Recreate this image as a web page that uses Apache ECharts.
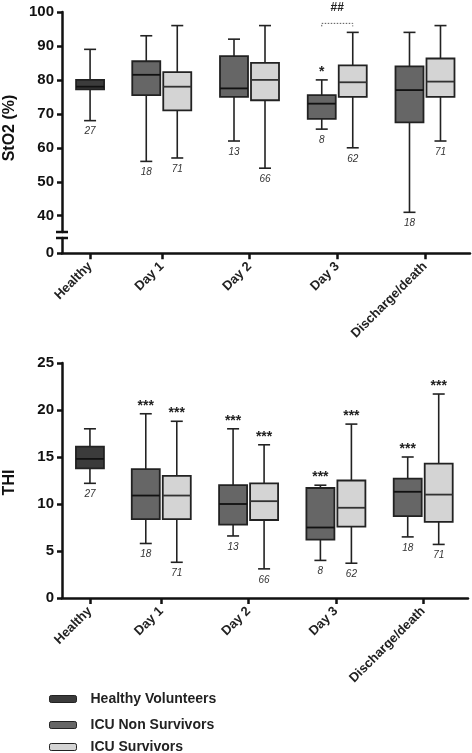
<!DOCTYPE html>
<html><head><meta charset="utf-8">
<script src="https://cdn.jsdelivr.net/npm/echarts@6/dist/echarts.min.js"></script>
<style>html,body{margin:0;padding:0;background:#fff}#c{width:472px;height:753px}</style>
</head><body><div id="c"></div><script>
// ---------------- DATA ----------------
const categories = ['Healthy', 'Day 1', 'Day 2', 'Day 3', 'Discharge/death'];
const seriesNames = ['Healthy Volunteers', 'ICU Non Survivors', 'ICU Survivors'];
// box statistics: [min, Q1, median, Q3, max]
const sto2Healthy = [68, 77.2, 78, 80, 89];
const sto2NonSurv = [[56, 75.5, 81.5, 85.5, 93], [62, 75, 77.5, 87, 92], [65.5, 68.5, 73, 75.5, 80], [41, 67.5, 77, 84, 94]];
const sto2Surv = [[57, 71, 78, 82.3, 96], [54, 74, 80, 85, 96], [60, 75, 79.3, 84.3, 94], [62, 75, 79.5, 86.3, 96]];
const thiHealthy = [12.2, 13.8, 14.8, 16.1, 18];
const thiNonSurv = [[5.8, 8.4, 10.9, 13.7, 19.6], [6.6, 7.8, 10, 12, 18], [4, 6.2, 7.5, 11.7, 12], [6.5, 8.7, 11.3, 12.7, 15]];
const thiSurv = [[3.8, 8.4, 10.9, 13, 18.8], [3.1, 8.3, 10.3, 12.2, 16.3], [3.7, 7.6, 9.6, 12.5, 18.5], [5.7, 8.1, 11, 14.3, 21.7]];
const nHealthy = [27];
const nNonSurv = [18, 13, 8, 18];
const nSurv = [71, 66, 62, 71];
const sto2HealthySig = [''];
const sto2NonSurvSig = ['', '', '*', ''];
const sto2SurvSig = ['', '', '', ''];
const sto2PairSig = ['', '', '##', ''];
const thiHealthySig = [''];
const thiNonSurvSig = ['***', '***', '***', '***'];
const thiSurvSig = ['***', '***', '***', '***'];
const sto2Ticks = [40, 50, 60, 70, 80, 90, 100];
const sto2LowTicks = [0];
const thiTicks = [0, 5, 10, 15, 20, 25];
const sto2BreakLow = 4.5, sto2BreakHigh = 35.2;

// ---------------- LAYOUT ----------------
const groupPos = [0, 0.817, 1.817, 2.817, 3.817];
const X_MIN = -0.32, X_MAX = 4.33;
const BOX_W = 28, PAIR_OFF = 15.5, CAP = 6;
const FONT = 'Liberation Sans';
const colors = ['#3b3b3b', '#666666', '#d4d4d4'];
const STROKE = '#222';

function makeBox(offset, nArr, sigArr, fill, medColor) {
  return function (params, api) {
    const i = params.dataIndex;
    const xv = api.value(0);
    const p = k => api.coord([xv, api.value(k)]);
    const cx = p(1)[0] + offset;
    const yMin = p(1)[1], yQ1 = p(2)[1], yMed = p(3)[1], yQ3 = p(4)[1], yMax = p(5)[1];
    const hw = BOX_W / 2;
    const ch = [
      { type: 'line', shape: { x1: cx, y1: yMax, x2: cx, y2: yMin }, style: { stroke: STROKE, lineWidth: 1.6 } },
      { type: 'line', shape: { x1: cx - CAP, y1: yMax, x2: cx + CAP, y2: yMax }, style: { stroke: STROKE, lineWidth: 1.6 } },
      { type: 'line', shape: { x1: cx - CAP, y1: yMin, x2: cx + CAP, y2: yMin }, style: { stroke: STROKE, lineWidth: 1.6 } },
      { type: 'rect', shape: { x: cx - hw, y: yQ3, width: BOX_W, height: yQ1 - yQ3 }, style: { fill: fill, stroke: STROKE, lineWidth: 1.8 } },
      { type: 'line', shape: { x1: cx - hw, y1: yMed, x2: cx + hw, y2: yMed }, style: { stroke: medColor, lineWidth: 1.8 } },
      { type: 'text', x: cx, y: yMin + 11, style: { text: String(nArr[i]), font: 'italic 10px "Liberation Sans"', fill: '#333', align: 'center', verticalAlign: 'middle' } }
    ];
    if (sigArr[i]) {
      ch.push({ type: 'text', x: cx, y: yMax - 8, style: { text: sigArr[i], font: 'bold 14px "Liberation Sans"', fill: '#222', align: 'center', verticalAlign: 'middle' } });
    }
    return { type: 'group', children: ch };
  };
}

function makeBracket(sigArr) {
  return function (params, api) {
    const i = params.dataIndex;
    if (!sigArr[i]) return { type: 'group', children: [] };
    const c = api.coord([api.value(0), api.value(1)]);
    const y = c[1] - 9, l = c[0] - PAIR_OFF, r = c[0] + PAIR_OFF;
    return { type: 'group', children: [
      { type: 'polyline', shape: { points: [[l, y + 3], [l, y], [r, y], [r, y + 3]] }, style: { stroke: '#555', lineWidth: 1, lineDash: [1.5, 1.5], fill: null } },
      { type: 'text', x: c[0], y: y - 16, style: { text: sigArr[i], font: 'bold 12px "Liberation Sans"', fill: '#222', align: 'center', verticalAlign: 'middle' } }
    ] };
  };
}

function boxData(groups, stats) { return stats.map((s, k) => [groupPos[groups[k]]].concat(s)); }
const dayGroups = [1, 2, 3, 4];

function xAxisCfg(grid, show) {
  return {
    type: 'value', gridIndex: grid, min: X_MIN, max: X_MAX, show: show,
    splitLine: { show: false },
    axisLine: { show: true, onZero: false, lineStyle: { color: '#111', width: 2.5 } },
    axisTick: { show: true, customValues: groupPos, length: 6, lineStyle: { color: '#111', width: 2.5 } },
    axisLabel: {
      customValues: groupPos, rotate: 45, margin: 11, fontSize: 13, fontWeight: 'bold', color: '#222', fontFamily: FONT,
      formatter: v => { let b = 0; groupPos.forEach((g, k) => { if (Math.abs(g - v) < Math.abs(groupPos[b] - v)) b = k; }); return categories[b]; }
    }
  };
}
function yAxisCfg(grid, min, max, ticks, name) {
  return {
    type: 'value', gridIndex: grid, min: min, max: max,
    name: name, nameLocation: 'middle', nameRotate: 90, nameGap: 43,
    nameTextStyle: { fontSize: 16, fontWeight: 'bold', color: '#111', fontFamily: FONT, padding: [0, 12, 0, 0] },
    splitLine: { show: false },
    axisLine: { show: true, onZero: false, lineStyle: { color: '#111', width: 2.5 } },
    axisTick: { show: true, customValues: ticks, length: 5, lineStyle: { color: '#111', width: 2.5 } },
    axisLabel: { customValues: ticks, margin: 8, fontSize: 15, fontWeight: 'bold', color: '#111', fontFamily: FONT }
  };
}
function legendCfg(k, top) {
  return {
    orient: 'vertical', left: 49, top: top, padding: 0, itemWidth: 27, itemHeight: 7, icon: 'roundRect',
    textStyle: { fontSize: 14, fontWeight: 'bold', color: '#222', fontFamily: FONT, padding: [0, 0, 0, 9] },
    itemStyle: { borderColor: '#222', borderWidth: 1 },
    selectedMode: false,
    data: [seriesNames[k]]
  };
}

const chart = echarts.init(document.getElementById('c'), null, { renderer: 'canvas' });
const enc = { x: 0, y: [1, 2, 3, 4, 5] };
chart.setOption({
  animation: false,
  backgroundColor: '#fff',
  grid: [
    { left: 62, right: 2, top: 12, height: 220, outerBoundsMode: 'none', containLabel: false },
    { left: 62, right: 2, top: 238, height: 15.3, outerBoundsMode: 'none', containLabel: false },
    { left: 62, right: 4, top: 363, height: 235, outerBoundsMode: 'none', containLabel: false }
  ],
  xAxis: [xAxisCfg(0, false), xAxisCfg(1, true), xAxisCfg(2, true)],
  yAxis: [
    yAxisCfg(0, sto2BreakHigh, 100, sto2Ticks, 'StO2 (%)'),
    yAxisCfg(1, 0, sto2BreakLow, sto2LowTicks, ''),
    Object.assign(yAxisCfg(2, 0, 25, thiTicks, 'THI'), { nameGap: 44, nameTextStyle: { fontSize: 16, fontWeight: 'bold', color: '#111', fontFamily: FONT, padding: [0, 4, 0, 0] } })
  ],
  legend: [legendCfg(0, 692), legendCfg(1, 718), legendCfg(2, 740)],
  series: [
    { type: 'custom', name: seriesNames[0], xAxisIndex: 0, yAxisIndex: 0, itemStyle: { color: colors[0] }, encode: enc,
      renderItem: makeBox(0, nHealthy, sto2HealthySig, colors[0], '#111'), data: boxData([0], [sto2Healthy]) },
    { type: 'custom', name: seriesNames[1], xAxisIndex: 0, yAxisIndex: 0, itemStyle: { color: colors[1] }, encode: enc,
      renderItem: makeBox(-PAIR_OFF, nNonSurv, sto2NonSurvSig, colors[1], '#111'), data: boxData(dayGroups, sto2NonSurv) },
    { type: 'custom', name: seriesNames[2], xAxisIndex: 0, yAxisIndex: 0, itemStyle: { color: colors[2] }, encode: enc,
      renderItem: makeBox(PAIR_OFF, nSurv, sto2SurvSig, colors[2], '#333'), data: boxData(dayGroups, sto2Surv) },
    { type: 'custom', name: 'pair', xAxisIndex: 0, yAxisIndex: 0, encode: { x: 0, y: 1 }, clip: false,
      renderItem: makeBracket(sto2PairSig), data: dayGroups.map((g, k) => [groupPos[g], Math.max(sto2NonSurv[k][4], sto2Surv[k][4])]) },
    { type: 'custom', name: seriesNames[0], xAxisIndex: 2, yAxisIndex: 2, itemStyle: { color: colors[0] }, encode: enc,
      renderItem: makeBox(0, nHealthy, thiHealthySig, colors[0], '#111'), data: boxData([0], [thiHealthy]) },
    { type: 'custom', name: seriesNames[1], xAxisIndex: 2, yAxisIndex: 2, itemStyle: { color: colors[1] }, encode: enc,
      renderItem: makeBox(-PAIR_OFF, nNonSurv, thiNonSurvSig, colors[1], '#111'), data: boxData(dayGroups, thiNonSurv) },
    { type: 'custom', name: seriesNames[2], xAxisIndex: 2, yAxisIndex: 2, itemStyle: { color: colors[2] }, encode: enc,
      renderItem: makeBox(PAIR_OFF, nSurv, thiSurvSig, colors[2], '#333'), data: boxData(dayGroups, thiSurv) }
  ]
});

// axis-break marks, placed through the axes' own scales
const ax = chart.convertToPixel({ xAxisIndex: 1 }, X_MIN);
const yHi = chart.convertToPixel({ yAxisIndex: 0 }, sto2BreakHigh);
const yLo = chart.convertToPixel({ yAxisIndex: 1 }, sto2BreakLow);
chart.setOption({ graphic: [
  { type: 'line', shape: { x1: ax - 6, y1: yHi, x2: ax + 6, y2: yHi }, style: { stroke: '#111', lineWidth: 2.5 } },
  { type: 'line', shape: { x1: ax - 6, y1: yLo, x2: ax + 6, y2: yLo }, style: { stroke: '#111', lineWidth: 2.5 } }
] });
</script></body></html>
